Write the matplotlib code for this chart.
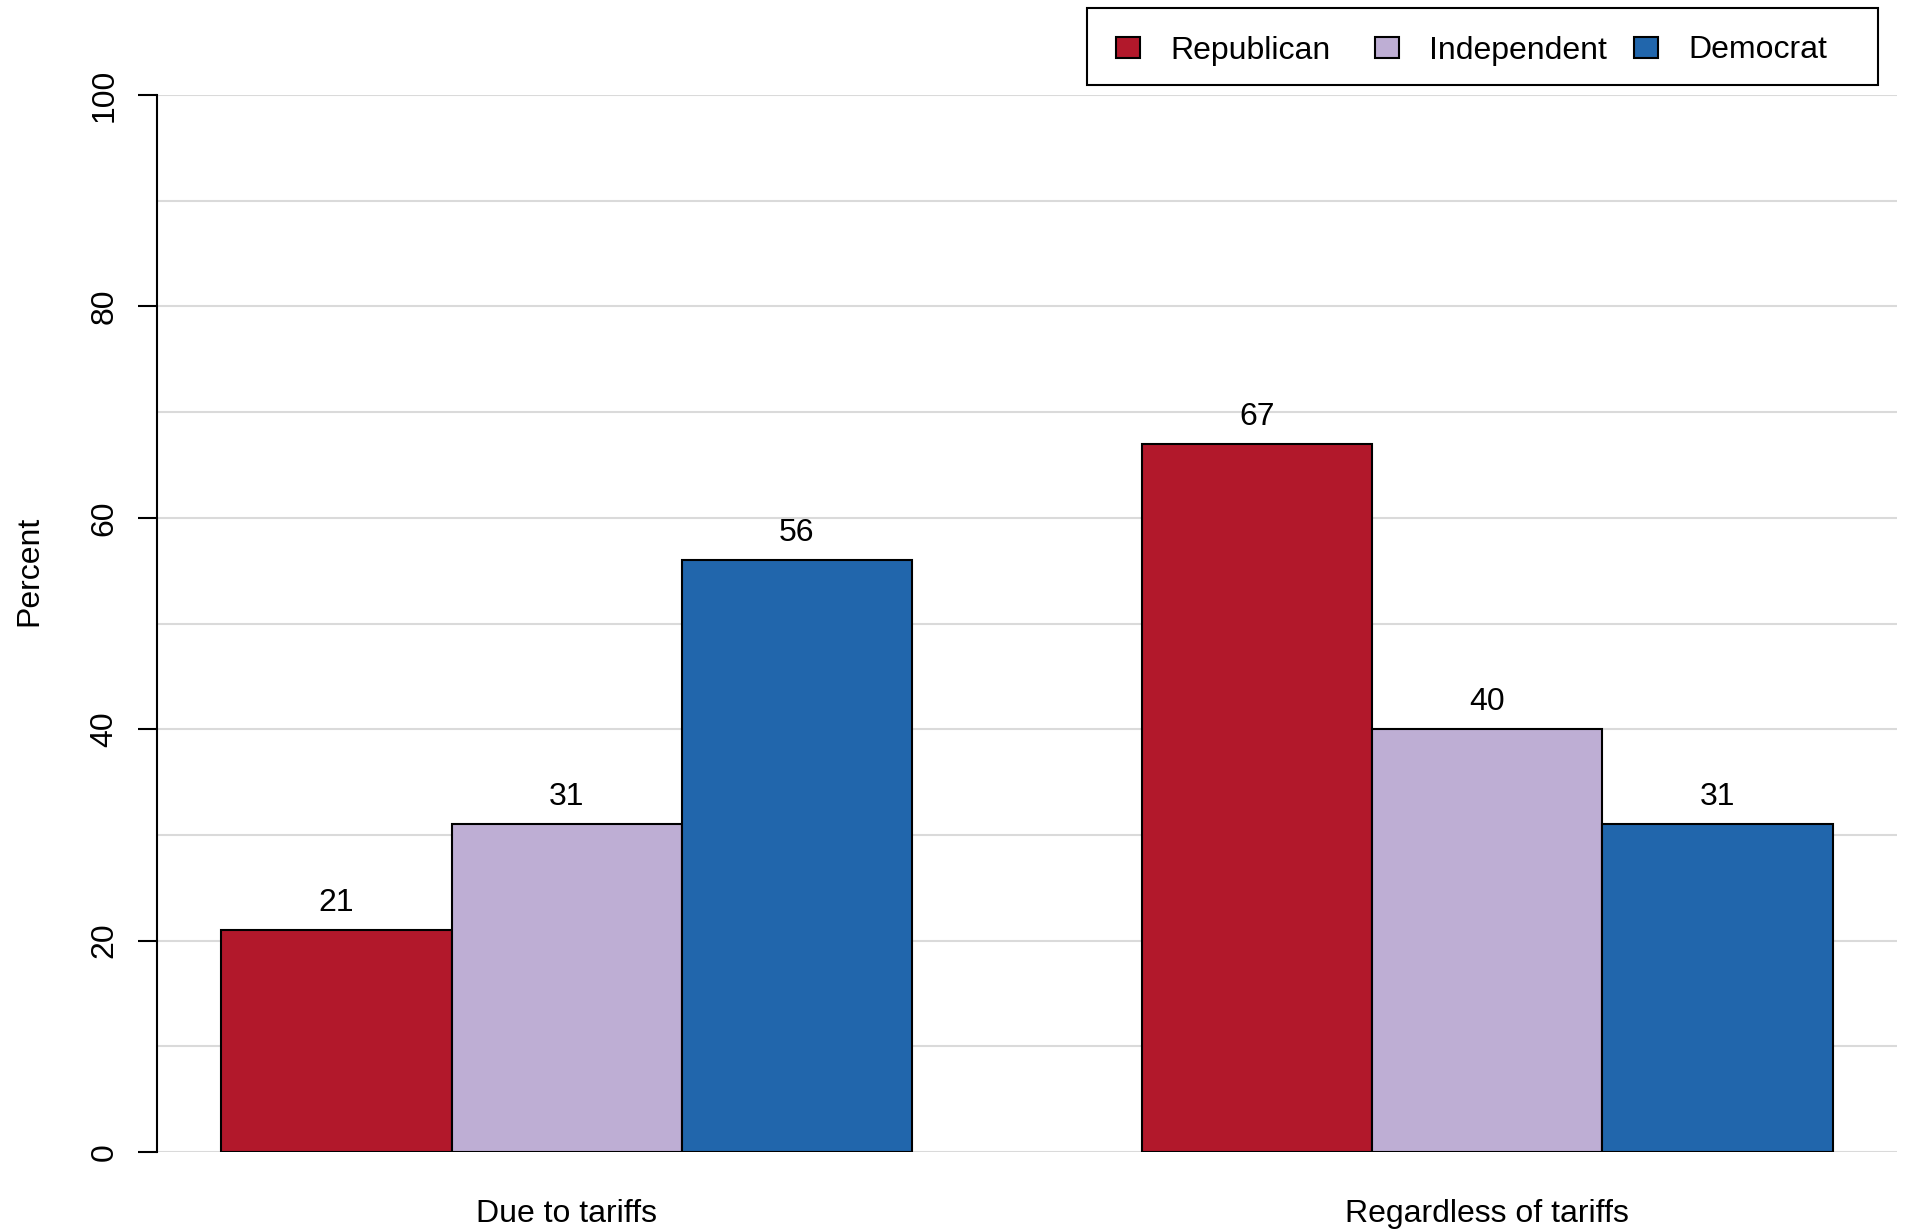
import matplotlib
matplotlib.use("Agg")
import matplotlib.pyplot as plt
from matplotlib.patches import Rectangle
import numpy as np

categories = ["Due to tariffs", "Regardless of tariffs"]
parties = ["Republican", "Independent", "Democrat"]
republican = [21, 67]
independent = [31, 40]
democrat = [56, 31]
colors = ["#B2182B", "#BEAED4", "#2166AC"]
yticks = [0, 20, 40, 60, 80, 100]

plt.rcParams['font.family'] = ['Liberation Sans', 'DejaVu Sans']
FS = 23
W, H = 1907, 1230

fig = plt.figure(figsize=(W / 100, H / 100), dpi=100)
ax = fig.add_axes([157/W, 1 - 1152/H, 1740/W, 1057/H])

series = [republican, independent, democrat]
# R barplot beside=TRUE layout: bars of width 1, one-unit gap before each group
for g in range(len(categories)):
    for i, vals in enumerate(series):
        left = 1 + g * 4 + i
        v = vals[g]
        ax.bar(left, v, width=1, align='edge', color=colors[i],
               edgecolor='black', linewidth=1.5, zorder=3)
        ax.annotate(str(v), (left + 0.5, v), xytext=(0, 19.5),
                    textcoords='offset points', ha='center', va='center',
                    fontsize=FS, zorder=4)

ax.set_xlim(0.72, 8.28)
ax.set_ylim(0, 100)
for y in range(0, 101, 10):
    ax.axhline(y, color='#DADADA', linewidth=1.5, zorder=1)

for s in ['top', 'right', 'bottom']:
    ax.spines[s].set_visible(False)
ax.spines['left'].set_linewidth(1.5)
ax.spines['left'].set_bounds(0, 100)
ax.spines['left'].set_zorder(5)

ax.set_yticks(yticks)
ax.set_yticklabels([str(t) for t in yticks])
ax.tick_params(axis='y', length=14, width=1.5, labelsize=FS, pad=13)
plt.setp(ax.get_yticklabels(), rotation=90, va='center')

centers = [1 + g * 4 + 1.5 for g in range(len(categories))]
ax.set_xticks(centers)
ax.set_xticklabels(categories)
ax.tick_params(axis='x', length=0, labelsize=FS, pad=34)

ax.set_ylabel("Percent", fontsize=FS)
ax.yaxis.set_label_coords(-0.065, 0.55)

# Legend box (R-style, equal column widths) in figure pixel coordinates
def fx(px):
    return px / W

def fy(py):
    return 1 - py / H

fig.patches.append(Rectangle((fx(1087), fy(85)), fx(1878) - fx(1087),
                             fy(8) - fy(85), transform=fig.transFigure,
                             facecolor='white', edgecolor='black',
                             linewidth=1.5, zorder=10))
for i, (name, c) in enumerate(zip(parties, colors)):
    x0 = 1116 + i * 259
    fig.patches.append(Rectangle((fx(x0), fy(58)), fx(24), 21 / H,
                                 transform=fig.transFigure, facecolor=c,
                                 edgecolor='black', linewidth=1.5, zorder=11))
    fig.text(fx(x0 + 54), fy(50.5), name, fontsize=FS, ha='left',
             va='center', zorder=12)

fig.savefig("out.png", dpi=100)
